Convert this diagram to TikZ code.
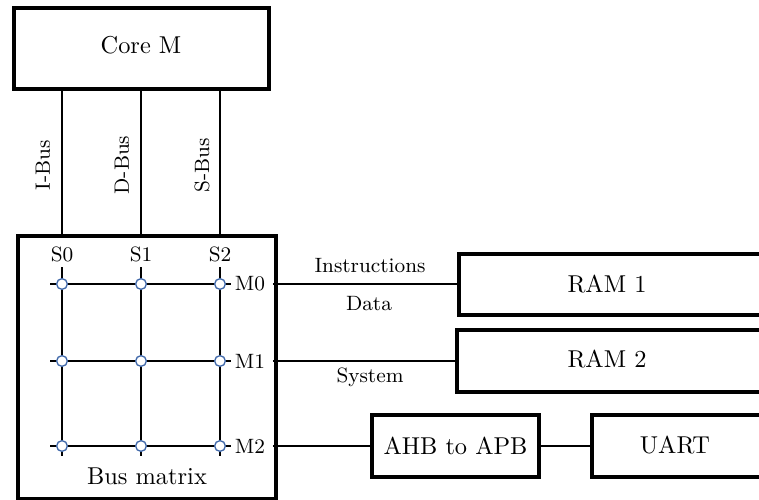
\documentclass[tikz,border=0pt]{standalone}
\definecolor{xblue}{RGB}{65,105,170}
\begin{document}
\begin{tikzpicture}[x=0.41pt,y=-0.41pt,
  box/.style={draw, line width=1.25pt, inner sep=0pt, outer sep=0pt},
  big/.style={font=\fontsize{10}{12}\selectfont, inner sep=1pt},
  small/.style={font=\fontsize{8.5}{10}\selectfont, inner sep=1pt},
  mlabel/.style={font=\fontsize{8.5}{10}\selectfont, inner ysep=1pt, inner xsep=3pt},
  wire/.style={line width=0.55pt},
  gridline/.style={line width=0.65pt},
  xbar/.style={circle, draw=xblue, fill=white, line width=0.55pt, minimum size=4.4pt, inner sep=0pt}]
\useasboundingbox (0,0) rectangle (759,499);
\clip (0,0) rectangle (759,499);

% boxes
\node[box, big, minimum width=104.55pt, minimum height=33.21pt] (core) at (141.5,48.5) {};
\node[big] (coret) at (141,45) {Core M};
\node[box, minimum width=105.78pt, minimum height=107.83pt] (bm) at (147,367.5) {};
\node[big] (bmt) at (147,476) {Bus matrix};
\node[box, minimum width=135.71pt, minimum height=25.01pt] (ram1) at (624.5,284.5) {};
\node[big] (ram1t) at (607,284) {RAM 1};
\node[box, minimum width=136.53pt, minimum height=25.42pt] (ram2) at (623.5,361) {};
\node[big] (ram2t) at (607,359) {RAM 2};
\node[box, big, minimum width=68.47pt, minimum height=25.42pt] (ahb) at (455.5,446) {AHB to APB};
\node[box, minimum width=81.18pt, minimum height=25.42pt] (uart) at (691,446) {};
\node[big] (uartt) at (675,445) {UART};

% bus lines from core to bus matrix
\coordinate (x0) at (62,0);
\coordinate (x1) at (141,0);
\coordinate (x2) at (220,0);
\foreach \i in {0,1,2} {
  \draw[wire] (core.south -| x\i) -- (bm.north -| x\i);
}
\node[small, rotate=90] (ibus) at (43,165) {I-Bus};
\node[small, rotate=90] (dbus) at (122,165) {D-Bus};
\node[small, rotate=90] (sbus) at (202,165) {S-Bus};

% slave labels
\node[small] (s0) at (62,254) {S0};
\node[small] (s1) at (141,254) {S1};
\node[small] (s2) at (220,254) {S2};

% grid end coordinates
\foreach \i/\x in {0/62,1/141,2/220} {
  \coordinate (t\i) at (\x,267);
  \coordinate (b\i) at (\x,456);
}
\foreach \j/\y in {0/284,1/361,2/446} {
  \coordinate (l\j) at (50,\y);
  \coordinate (r\j) at (231,\y);
}
\foreach \i in {0,1,2} {
  \draw[gridline] (t\i) -- (b\i);
  \draw[gridline] (l\i) -- (r\i);
}
\foreach \i/\x in {0/62,1/141,2/220} {
  \foreach \j/\y in {0/284,1/361,2/446} {
    \node[xbar] (c\i\j) at (\x,\y) {};
  }
}

% master labels
\node[mlabel] (m0) at (250,284) {M0};
\node[mlabel] (m1) at (250,361) {M1};
\node[mlabel] (m2) at (250,446) {M2};

% connections
\draw[wire] (m0.east) -- (ram1.west |- m0.east);
\draw[wire] (m1.east) -- (ram2.west |- m1.east);
\draw[wire] (m2.east) -- (ahb.west);
\draw[wire] (ahb.east) -- (uart.west);

\node[small] (instr) at (370,266) {Instructions};
\node[small] (data) at (369,304) {Data};
\node[small] (sys) at (370,377) {System};
\end{tikzpicture}
\end{document}
